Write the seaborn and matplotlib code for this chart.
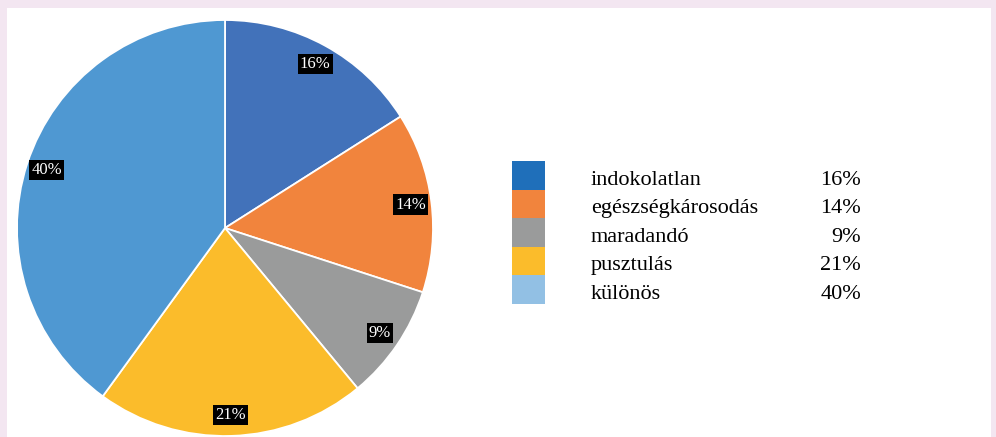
import matplotlib
matplotlib.use("Agg")
import matplotlib.pyplot as plt
import seaborn as sns
from matplotlib.patches import Rectangle

sns.set_theme(style="white")
plt.rcParams['font.family'] = ['Liberation Serif', 'DejaVu Serif']

categories = ["indokolatlan", "egészségkárosodás", "maradandó", "pusztulás", "különös"]
values = [16, 14, 9, 21, 40]
pie_colors = ["#4272ba", "#f1843d", "#9a9b9b", "#fbbc2b", "#4f98d2"]
legend_colors = ["#1f6fba", "#f1843d", "#9a9b9b", "#fbbc2b", "#92c0e4"]

W, H = 996, 437
fig = plt.figure(figsize=(W / 100, H / 100), dpi=100)
fig.patch.set_facecolor("#f3e6f1")

# white panel
bg = fig.add_axes([7 / W, 0, 984 / W, 429 / H])
bg.set_facecolor("white")
bg.set_xticks([]); bg.set_yticks([])
for s in bg.spines.values():
    s.set_visible(False)

# pie
ax = fig.add_axes([17 / W, 1 / H, 416 / W, 416 / H])
wedges, texts, autotexts = ax.pie(
    values, colors=pie_colors, startangle=90, counterclock=False,
    autopct=lambda p: f"{p:.0f}%", pctdistance=0.9,
    wedgeprops=dict(edgecolor="white", linewidth=1.3),
    textprops=dict(color="white", fontsize=12),
)
for t in autotexts:
    t.set_bbox(dict(facecolor="black", edgecolor="none", pad=1.6))
ax.set_xlim(-1, 1); ax.set_ylim(-1, 1)
ax.set_aspect("equal")
ax.axis("off")
for w in wedges:
    w.set_clip_on(False)

# legend
row_h = 28.5
top = 161
for i, (cat, val, col) in enumerate(zip(categories, values, legend_colors)):
    y0 = top + i * row_h
    fig.patches.append(Rectangle((512 / W, 1 - (y0 + row_h) / H), 33 / W, row_h / H,
                                 transform=fig.transFigure, facecolor=col, edgecolor="none"))
    yc = 1 - (y0 + row_h / 2 + 5) / H
    fig.text(591 / W, yc, cat, fontsize=16, color="black", va="center", ha="left")
    fig.text(861 / W, yc, f"{val}%", fontsize=16, color="black", va="center", ha="right")

fig.savefig("out.png", dpi=100, facecolor=fig.get_facecolor())
